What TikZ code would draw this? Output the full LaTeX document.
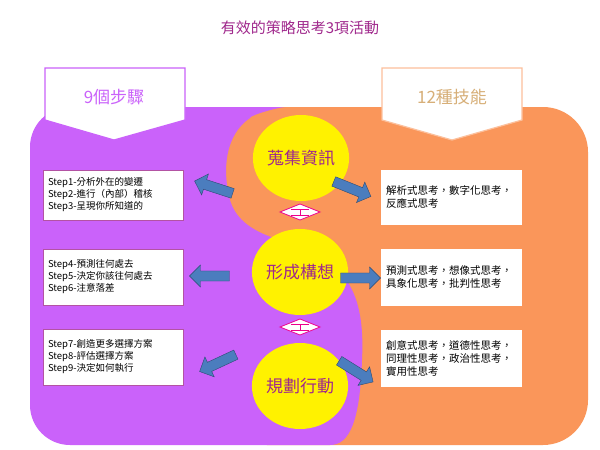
\documentclass[tikz,border=0pt]{standalone}
\usepackage{fontspec}
\setmainfont{Noto Sans CJK TC}
\usepackage{tikz}
\usetikzlibrary{shapes.geometric,shapes.arrows,positioning}
\definecolor{Lilac}{RGB}{202,98,250}
\definecolor{Peach}{RGB}{250,150,90}
\definecolor{Plum}{RGB}{160,40,140}
\definecolor{Tan}{RGB}{215,175,120}
\definecolor{Steel}{RGB}{75,125,190}
\begin{document}
\begin{tikzpicture} [x=1pt, y=-1pt,
       every node/.style={font=\fontsize{9.5}{12}\selectfont},
       activity/.style = {ellipse, fill=yellow, minimum width=78pt, minimum height=86pt,
                          inner sep=0pt, text=Plum, font=\fontsize{17}{20}\selectfont},
       header/.style = {draw=#1, very thick, fill=white},
       stepbox/.style = {rectangle, draw=#1, thick, fill=white, minimum width=140pt,
                         minimum height=50pt, text width=130pt, align=left},
       flow/.style = {single arrow, draw=Steel!60!black, fill=Steel, minimum height=40pt,
                      minimum width=22pt, single arrow head extend=5pt, inner sep=4pt},
       link/.style = {draw=magenta, thick, fill=white}]
	%% Frame
	\useasboundingbox (0,0) rectangle (600,450);
	\fill[white] (0,0) rectangle (600,450);
	\node[font=\fontsize{15}{18}\selectfont, text=Plum] (title) at (300,28) {有效的策略思考3項活動};

	%% Background regions
	\fill[Peach, rounded corners=45pt] (222,107) rectangle (588,445);
	\fill[Lilac] (330,445) [rounded corners=40pt] -- (30,445) -- (30,107) -- (245,107) [sharp corners]
	      .. controls (280,107) and (250,115) .. (250,118)
	      .. controls (225,135) and (222,170) .. (230,200)
	      .. controls (240,235) and (285,240) .. (310,250)
	      .. controls (350,270) and (365,300) .. (362,360)
	      .. controls (360,420) and (350,445) .. (330,445) -- cycle;

	%% Headers
	\draw[header=Lilac] (45,68) -- (185,68) -- (185,120) -- (114,140) -- (45,120) -- cycle;
	\node[text=Lilac, font=\fontsize{17}{20}\selectfont] (steps) at (114,97) {9個步驟};
	\draw[header=Peach!60] (382,68) -- (522,68) -- (522,120) -- (452,140) -- (382,120) -- cycle;
	\node[text=Tan, font=\fontsize{17}{20}\selectfont] (skills) at (452,97) {12種技能};

	%% Activities
	\node[activity] (gather) at (301,158) {蒐集資訊};
	\node[activity] (form) at (300,272) {形成構想};
	\node[activity] (plan) at (300,386) {規劃行動};

	%% Links between activities
	\foreach \y in {212,327} {
	  \draw[link] (280,\y) -- (300,\y-8) -- (320,\y) -- (300,\y+8) -- cycle;
	  \draw[magenta, thick] (291,\y-3) -- (309,\y-3) (291,\y+3) -- (309,\y+3) (300,\y-3) -- (300,\y+3);
	}

	%% Steps
	\node[stepbox=Plum!80] (s1) at (113,195) {Step1-分析外在的變遷\\Step2-進行（內部）稽核\\Step3-呈現你所知道的};
	\node[stepbox=Plum!80, minimum height=56pt] (s2) at (113,277) {Step4-預測往何處去\\Step5-決定你該往何處去\\Step6-注意落差};
	\node[stepbox=Plum!80, minimum height=56pt] (s3) at (113,357) {Step7-創造更多選擇方案\\Step8-評估選擇方案\\Step9-決定如何執行};

	%% Skills
	\node[stepbox=white, minimum height=54pt, font=\fontsize{10.5}{13}\selectfont] (k1) at (451,197) {解析式思考，數字化思考，\\反應式思考\\ };
	\node[stepbox=white, minimum height=56pt, font=\fontsize{10.5}{13}\selectfont] (k2) at (451,277) {預測式思考，想像式思考，\\具象化思考，批判性思考\\ };
	\node[stepbox=white, minimum height=56pt, font=\fontsize{10.5}{13}\selectfont] (k3) at (451,358) {創意式思考，道德性思考，\\同理性思考，政治性思考，\\實用性思考};

	%% Flows
	\node[flow, rotate=162] (f1) at (216,188) {};
	\node[flow, rotate=-22] (f2) at (350,188) {};
	\node[flow, rotate=180] (f3) at (212,276) {};
	\node[flow] (f4) at (358,278) {};
	\node[flow, rotate=-155] (f5) at (220,362) {};
	\node[flow, rotate=-32] (f6) at (354,370) {};
\end{tikzpicture}
\end{document}
